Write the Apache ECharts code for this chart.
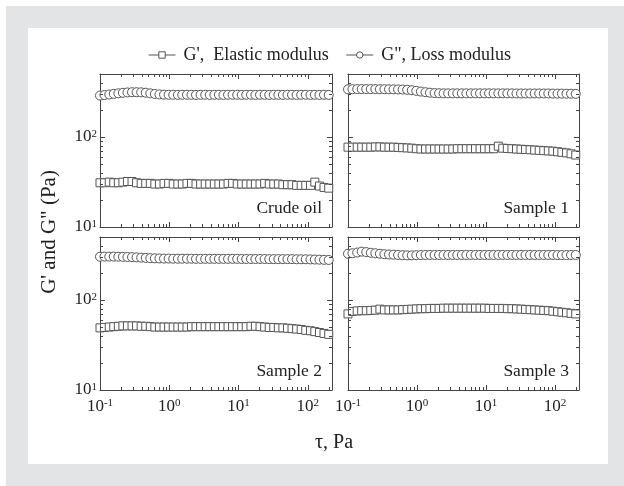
<!DOCTYPE html>
<html>
<head>
<meta charset="utf-8">
<script src="https://cdn.jsdelivr.net/npm/echarts@6/dist/echarts.min.js"></script>
<style>
  html, body { margin: 0; padding: 0; background: #fff; }
  #frame { position: absolute; left: 6px; top: 6px; width: 618px; height: 480px; background: #e3e4e6; }
  #sheet { position: absolute; left: 28px; top: 28px; width: 580px; height: 436px; background: #fff; }
  #chart { position: absolute; left: 0; top: 0; width: 624px; height: 486px; }
</style>
</head>
<body>
<div id="frame"></div>
<div id="sheet"></div>
<div id="chart"></div>
<script>
// Shear stress sweep, tau in Pa
const tau = [0.1, 0.116, 0.136, 0.158, 0.184, 0.214, 0.249, 0.29, 0.337, 0.393,
  0.457, 0.532, 0.619, 0.721, 0.84, 0.978, 1.14, 1.33, 1.54, 1.8,
  2.09, 2.43, 2.83, 3.3, 3.84, 4.47, 5.2, 6.05, 7.05, 8.2,
  9.55, 11.1, 12.9, 15.1, 17.5, 20.4, 23.8, 27.7, 32.2, 37.5,
  43.6, 50.8, 59.1, 68.8, 80.1, 93.3, 109, 126, 147, 171, 200];

// Crude oil
const crudeLoss = [288, 292, 296, 301, 305, 309, 312, 314, 314, 313,
  310, 305, 300, 297, 295, 294, 294, 293, 294, 294,
  294, 293, 294, 294, 293, 294, 294, 293, 294, 294,
  294, 293, 294, 294, 293, 294, 294, 293, 294, 294,
  293, 294, 294, 293, 294, 294, 293, 294, 293, 294, 293];
const crudeElastic = [31, 31, 31.5, 31, 31, 31.5, 32, 32, 31, 30.5,
  30.5, 30.5, 30, 30, 30.5, 30.5, 30, 30, 30, 30.5,
  30.5, 30, 30, 30, 30, 30, 30, 30, 30.5, 30.5,
  30, 30, 30, 30, 30, 30, 30.5, 30, 30, 30,
  29.5, 29.5, 29.5, 29, 29, 29, 29, 31.5, 28.5, 27.5, 27];

// Sample 1
const s1Loss = [338, 339, 340, 340, 340, 340, 340, 339, 339, 338,
  338, 337, 336, 334, 330, 325, 319, 314, 310, 307,
  306, 305, 305, 305, 305, 305, 305, 305, 305, 305,
  305, 305, 305, 305, 305, 305, 305, 304, 304, 304,
  304, 304, 304, 304, 304, 303, 303, 303, 302, 302, 301];
const s1Elastic = [77, 77, 77, 77, 77, 77, 77.5, 77.5, 77, 77,
  77, 76.5, 76, 75.5, 75, 74, 73.5, 73.5, 73.5, 73.5,
  73.5, 73.5, 73.5, 73.5, 74, 74, 74, 74, 74, 74,
  74, 74, 74, 79, 75, 74.5, 74, 73.5, 73, 72.5,
  72, 71.5, 71, 70.5, 70, 69.5, 68.5, 67.5, 66.5, 65, 63];

// Sample 2
const s2Loss = [302, 303, 303, 303, 302, 301, 300, 299, 297, 295,
  293, 291, 290, 289, 288, 288, 287, 287, 287, 287,
  287, 286, 286, 286, 286, 286, 286, 286, 286, 286,
  286, 285, 285, 285, 285, 285, 285, 284, 284, 284,
  284, 284, 284, 283, 283, 283, 282, 281, 280, 279, 278];
const s2Elastic = [49, 49.5, 50, 50.5, 51, 51.5, 51.5, 51.5, 51.5, 51,
  51, 50.5, 50, 50, 50, 50, 50, 50, 50, 50,
  50.5, 50.5, 50.5, 50.5, 50.5, 50.5, 50.5, 50.5, 50.5, 50.5,
  50.5, 50.5, 50.5, 51, 51, 50.5, 50, 49.5, 49.5, 49,
  49, 48.5, 48, 47.5, 47, 46, 45.5, 44.5, 43.5, 42.5, 41.5];

// Sample 3
const s3Loss = [326, 330, 336, 344, 340, 334, 330, 326, 322, 320,
  318, 316, 314, 313, 313, 314, 315, 316, 316, 316,
  316, 316, 316, 316, 316, 316, 316, 316, 316, 316,
  316, 316, 316, 316, 316, 316, 316, 316, 316, 316,
  316, 316, 316, 316, 316, 316, 315, 315, 315, 316, 316];
const s3Elastic = [70, 74.5, 75.5, 76, 76, 76.5, 77, 79, 77.5, 77.5,
  77.5, 77.5, 78, 78.5, 79, 79.5, 80, 80, 80.5, 80.5,
  80.5, 81, 81, 81, 81, 81, 81, 81, 81, 81,
  81, 80.5, 80.5, 80.5, 80.5, 80, 80, 79.5, 79, 78.5,
  78, 77.5, 77, 76.5, 76, 75, 74, 73, 72, 71, 70];

const panelNames = ['Crude oil', 'Sample 1', 'Sample 2', 'Sample 3'];
const elasticSets = [crudeElastic, s1Elastic, s2Elastic, s3Elastic];
const lossSets = [crudeLoss, s1Loss, s2Loss, s3Loss];

const nameElastic = "G',  Elastic modulus";
const nameLoss = 'G", Loss modulus';

// Axis ranges and tick values
const xRange = [0.1, 223];
const yRange = [10, 500];
const xMinorTicks = [0.2, 0.3, 0.4, 0.5, 0.6, 0.7, 0.8, 0.9,
  2, 3, 4, 5, 6, 7, 8, 9, 20, 30, 40, 50, 60, 70, 80, 90, 200];
const yMinorTicks = [20, 30, 40, 50, 60, 70, 80, 90, 200, 300, 400];

const SERIF = 'Liberation Serif, Times New Roman, serif';
const INK = '#222';
const LINE = '#444';
const MARK = '#555';

const gridBoxes = [
  { left: 100, top: 74, width: 232, height: 153 },
  { left: 348, top: 74, width: 231, height: 153 },
  { left: 100, top: 237, width: 232, height: 153 },
  { left: 348, top: 237, width: 231, height: 153 }
];

function powLabel(v) {
  const e = Math.log10(v);
  const r = Math.round(e);
  if (Math.abs(e - r) > 0.01) return '';
  return '{b|10}{s|' + r + '}';
}
const richPow = {
  b: { fontFamily: SERIF, fontSize: 17, color: INK },
  s: { fontFamily: SERIF, fontSize: 11, color: INK, verticalAlign: 'top', padding: [0, 0, 6, 0] }
};

const xAxis = [], yAxis = [], series = [];
gridBoxes.forEach((g, i) => {
  const showX = i >= 2;
  const showY = i % 2 === 0;
  ['bottom', 'top'].forEach((pos, k) => {
    xAxis.push({
      type: 'log', gridIndex: i, position: pos, min: xRange[0], max: xRange[1],
      axisLine: { show: true, lineStyle: { color: LINE, width: 1 } },
      axisTick: { show: true, inside: true, length: 5, lineStyle: { color: LINE } },
      axisLabel: { show: showX && k === 0, margin: 8, formatter: powLabel, rich: richPow },
      splitLine: { show: false }
    });
  });
  ['left', 'right'].forEach((pos, k) => {
    yAxis.push({
      type: 'log', gridIndex: i, position: pos, min: yRange[0], max: yRange[1],
      axisLine: { show: true, lineStyle: { color: LINE, width: 1 } },
      axisTick: { show: true, inside: true, length: 5, lineStyle: { color: LINE } },
      axisLabel: { show: showY && k === 0, margin: 3, formatter: powLabel, rich: richPow },
      splitLine: { show: false }
    });
  });

  const common = {
    type: 'line', xAxisIndex: 2 * i, yAxisIndex: 2 * i,
    showSymbol: true, lineStyle: { opacity: 0 },
    itemStyle: { color: '#fff', borderColor: MARK, borderWidth: 1 },
    emphasis: { disabled: true }, animation: false, z: 3
  };
  series.push(Object.assign({}, common, {
    name: nameLoss, symbol: 'circle', symbolSize: 9,
    data: tau.map((t, j) => [t, lossSets[i][j]])
  }));
  series.push(Object.assign({}, common, {
    name: nameElastic, symbol: 'rect', symbolSize: 8,
    data: tau.map((t, j) => [t, elasticSets[i][j]])
  }));

  // minor ticks on the bottom/top edges
  series.push({
    type: 'custom', xAxisIndex: 2 * i, yAxisIndex: 2 * i, silent: true, animation: false, z: 4,
    data: xMinorTicks.map(v => [v, yRange[0]]),
    renderItem: (params, api) => {
      const x = api.value(0);
      const b = api.coord([x, yRange[0]]);
      const t = api.coord([x, yRange[1]]);
      const px = Math.round(b[0]) + 0.5;
      return { type: 'group', children: [
        { type: 'line', shape: { x1: px, y1: b[1], x2: px, y2: b[1] - 3 }, style: { stroke: LINE, lineWidth: 1 } },
        { type: 'line', shape: { x1: px, y1: t[1], x2: px, y2: t[1] + 3 }, style: { stroke: LINE, lineWidth: 1 } }
      ] };
    }
  });
  // minor ticks on the left/right edges
  series.push({
    type: 'custom', xAxisIndex: 2 * i, yAxisIndex: 2 * i, silent: true, animation: false, z: 4,
    data: yMinorTicks.map(v => [xRange[0], v]),
    renderItem: (params, api) => {
      const y = api.value(1);
      const l = api.coord([xRange[0], y]);
      const r = api.coord([xRange[1], y]);
      const py = Math.round(l[1]) + 0.5;
      return { type: 'group', children: [
        { type: 'line', shape: { x1: l[0], y1: py, x2: l[0] + 3, y2: py }, style: { stroke: LINE, lineWidth: 1 } },
        { type: 'line', shape: { x1: r[0], y1: py, x2: r[0] - 3, y2: py }, style: { stroke: LINE, lineWidth: 1 } }
      ] };
    }
  });
});

const graphic = [
  {
    type: 'text', x: 49, y: 232, rotation: Math.PI / 2,
    style: { text: 'G\' and G" (Pa)', fontFamily: SERIF, fontSize: 21, fill: INK, align: 'center', verticalAlign: 'middle' }
  },
  {
    type: 'text', x: 334, y: 443,
    style: { text: 'τ, Pa', fontFamily: SERIF, fontSize: 20, fill: INK, align: 'center', verticalAlign: 'middle' }
  }
];
gridBoxes.forEach((g, i) => {
  graphic.push({
    type: 'text', x: g.left + g.width - 10, y: g.top + g.height - 19,
    style: { text: panelNames[i], fontFamily: SERIF, fontSize: 17.5, fill: INK, align: 'right', verticalAlign: 'middle' }
  });
});

const chart = echarts.init(document.getElementById('chart'), null, { renderer: 'canvas' });
chart.setOption({
  backgroundColor: 'transparent',
  animation: false,
  legend: {
    data: [nameElastic, nameLoss],
    left: 143, top: 41, itemGap: 17, itemWidth: 27, itemHeight: 8,
    textStyle: { fontFamily: SERIF, fontSize: 18, color: INK, padding: [0, 0, 0, 3] },
    lineStyle: { color: MARK, width: 1, opacity: 1 },
    itemStyle: { color: '#fff', borderColor: MARK, borderWidth: 1 },
    selectedMode: false
  },
  grid: gridBoxes.map(g => Object.assign({ containLabel: false }, g)),
  xAxis: xAxis,
  yAxis: yAxis,
  series: series,
  graphic: graphic
});
</script>
</body>
</html>
